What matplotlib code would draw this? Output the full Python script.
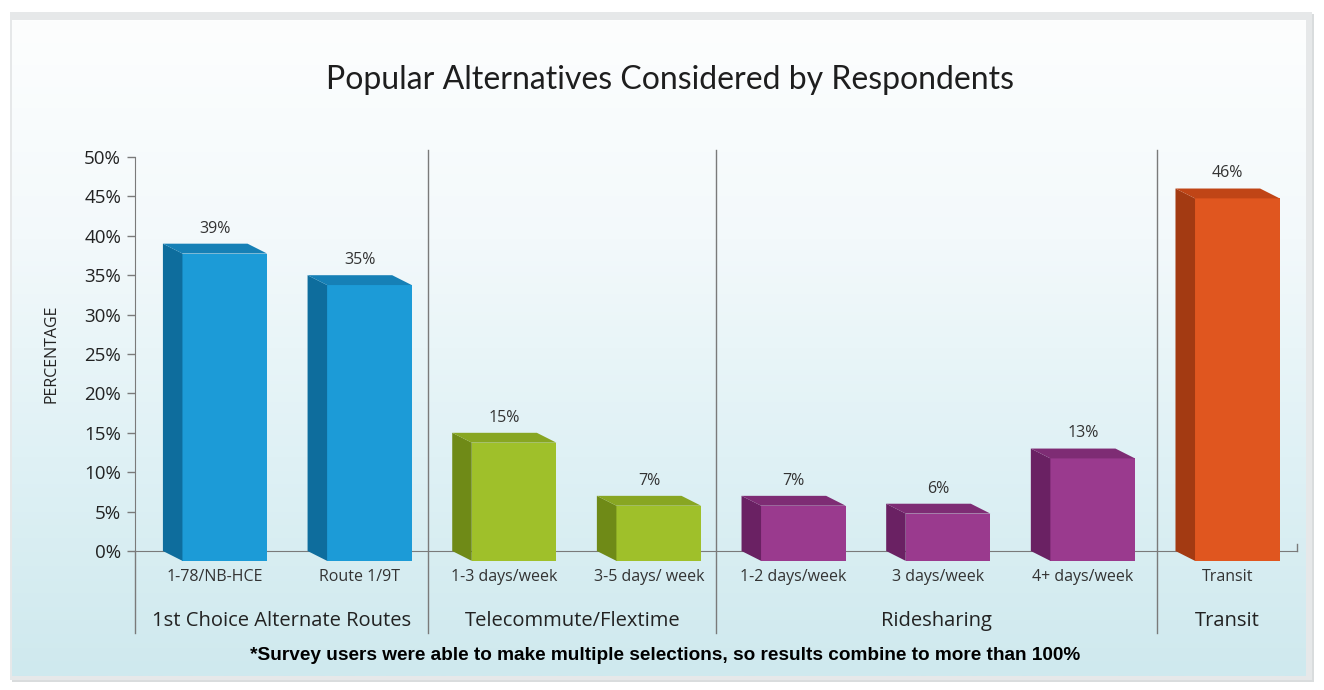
import matplotlib
matplotlib.use("Agg")
import matplotlib.pyplot as plt
import numpy as np
from matplotlib.patches import Polygon, Rectangle
from matplotlib.colors import LinearSegmentedColormap

# ---- data ----
categories = ["1-78/NB-HCE", "Route 1/9T", "1-3 days/week", "3-5 days/ week",
              "1-2 days/week", "3 days/week", "4+ days/week", "Transit"]
values = [39, 35, 15, 7, 7, 6, 13, 46]
groups = ["1st Choice Alternate Routes", "Telecommute/Flextime", "Ridesharing", "Transit"]
group_of = [0, 0, 1, 1, 2, 2, 2, 3]
yticks = [0, 5, 10, 15, 20, 25, 30, 35, 40, 45, 50]
title = "Popular Alternatives Considered by Respondents"
footnote = "*Survey users were able to make multiple selections, so results combine to more than 100%"

# ---- style ----
front_c = ["#1c9bd7", "#9fc02a", "#9a3a8e", "#e0561f"]
side_c = ["#0e6d9d", "#6f8a17", "#6a2163", "#a33a12"]
top_c = ["#1680b6", "#88a622", "#7e2c74", "#c04516"]

W, H = 1324, 690
fig = plt.figure(figsize=(W / 100, H / 100), dpi=100)
fig.patch.set_facecolor("white")

# background panel with gradient
bg = fig.add_axes([0, 0, 1, 1], zorder=-10)
bg.set_xlim(0, W)
bg.set_ylim(H, 0)
bg.axis("off")
bg.add_patch(Rectangle((12, 14), 1302, 668, facecolor="#d9dcdd", edgecolor="none"))
bg.add_patch(Rectangle((10, 12), 1302, 668, facecolor="#e6e8e9", edgecolor="none"))
cmap = LinearSegmentedColormap.from_list("bgc", ["#fdfefe", "#f3f9fb", "#dff1f5", "#cfe9ee"])
grad = np.linspace(0, 1, 256).reshape(-1, 1)
bg.imshow(grad, cmap=cmap, extent=(12, 1306, 676, 20), aspect="auto", zorder=1)

ax = fig.add_axes([135 / W, 1 - 551 / H, (1297 - 135) / W, (551 - 157) / H])
ax.set_facecolor("none")
ax.set_xlim(-0.553, 7.48)
ax.set_ylim(0, 50)

x = np.arange(len(values))
bw = 0.72      # total box width
dep = 0.135    # side depth (x units)
dy = 1.25      # top depth (y units)

for xi, v, g in zip(x, values, group_of):
    xl = xi - bw / 2
    xr = xi + bw / 2
    ax.bar(xl + dep, v, width=bw - dep, bottom=-dy, align="edge",
           color=front_c[g], edgecolor="none", clip_on=False, zorder=3)
    side = Polygon([(xl, v), (xl + dep, v - dy), (xl + dep, -dy), (xl, 0)],
                   closed=True, facecolor=side_c[g], edgecolor="none", clip_on=False, zorder=3)
    top = Polygon([(xl, v), (xl + dep, v - dy), (xr, v - dy), (xr - dep, v)],
                  closed=True, facecolor=top_c[g], edgecolor="none", clip_on=False, zorder=3)
    ax.add_patch(side)
    ax.add_patch(top)
    ax.text(xi, v + 0.9, f"{v}%", ha="center", va="bottom", fontsize=11.5,
            color="#333333", family="Open Sans", zorder=4)

for s in ["top", "right"]:
    ax.spines[s].set_visible(False)
ax.spines["bottom"].set_color("#7a7a7a")
ax.spines["left"].set_color("#7a7a7a")
ax.spines["left"].set_bounds(0, 50)
ax.set_yticks(yticks)
ax.set_yticklabels([f"{t}%" for t in yticks], family="Open Sans", fontsize=13.5, color="#222222")
ax.tick_params(axis="y", direction="out", length=6, width=1, color="#7a7a7a", pad=4)
ax.set_xticks(x)
ax.set_xticklabels(categories, family="Open Sans", fontsize=11.5, color="#333333")
ax.tick_params(axis="x", length=0, pad=13)
ax.set_ylabel("PERCENTAGE", family="Open Sans", fontsize=11.5, color="#222222", labelpad=18)

ymin_ax = (551 - 633) / (551 - 157)
ymax_ax = (551 - 150) / (551 - 157)
for sx in [1.475, 3.465, 6.515]:
    ax.axvline(sx, ymin=ymin_ax, ymax=ymax_ax, color="#7a7a7a", lw=1, clip_on=False, zorder=1)
ax.axvline(-0.553, ymin=ymin_ax, ymax=0, color="#7a7a7a", lw=1, clip_on=False)
ax.axvline(7.48, ymin=0, ymax=0.018, color="#7a7a7a", lw=1, clip_on=False)

bounds = [-0.553, 1.475, 3.465, 6.515, 7.48]
for gi, name in enumerate(groups):
    cx = (bounds[gi] + bounds[gi + 1]) / 2
    ax.text(cx, (551 - 621) / (551 - 157), name, transform=ax.get_xaxis_transform(),
            ha="center", va="center", fontsize=14.5, family="Open Sans", color="#222222")

fig.text(670 / W, 1 - 80 / H, title, ha="center", va="center", fontsize=23,
         family="Lato", color="#1e1e1e")
fig.text(665 / W, 1 - 655 / H, footnote, ha="center", va="center", fontsize=13.7,
         family="Liberation Sans", weight="bold", color="black")

fig.savefig("out.png", dpi=100)
